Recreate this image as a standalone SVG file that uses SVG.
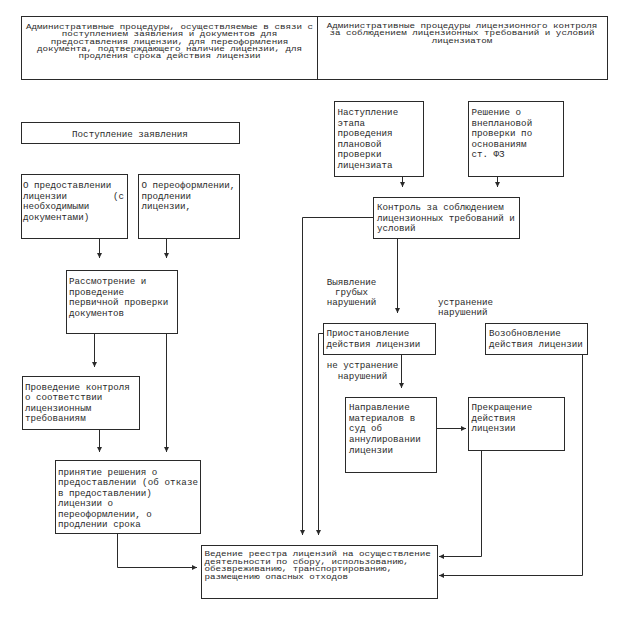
<svg xmlns="http://www.w3.org/2000/svg" width="629" height="624" viewBox="0 0 629 624">
<style>
.b{fill:#fff;stroke:#2a2a2a;stroke-width:1}
.t{font-family:"Liberation Mono","DejaVu Sans Mono",monospace;font-size:9.2px;fill:#2a2a2a}
.c{text-anchor:middle}
.l{fill:none;stroke:#2a2a2a;stroke-width:1}
</style>
<defs>
<marker id="a" markerUnits="userSpaceOnUse" markerWidth="6" markerHeight="6" refX="5" refY="2.5" orient="auto">
<path d="M0,0 L5,2.5 L0,5 z" fill="#2a2a2a"/>
</marker>
</defs>
<rect width="629" height="624" fill="#fff"/>

<g id="connectors">
<path class="l" d="M99.5,238 V258" marker-end="url(#a)"/>
<path class="l" d="M166.5,238 V258" marker-end="url(#a)"/>
<path class="l" d="M94.5,333 V367" marker-end="url(#a)"/>
<path class="l" d="M166.5,333 V452" marker-end="url(#a)"/>
<path class="l" d="M99.5,429 V452" marker-end="url(#a)"/>
<path class="l" d="M117.5,533 V567.5 H197" marker-end="url(#a)"/>
<path class="l" d="M402.5,176 V187" marker-end="url(#a)"/>
<path class="l" d="M497.5,176 V187" marker-end="url(#a)"/>
<path class="l" d="M373,217.5 H302.5 V535" marker-end="url(#a)"/>
<path class="l" d="M323,333.5 H318.5 V535" marker-end="url(#a)"/>
<path class="l" d="M397.5,238 V313" marker-end="url(#a)"/>
<path class="l" d="M401.5,354 V388" marker-end="url(#a)"/>
<path class="l" d="M436,428.5 H466" marker-end="url(#a)"/>
<path class="l" d="M481.5,450 V556.5 H439" marker-end="url(#a)"/>
<path class="l" d="M582.5,354 V575.5 H439" marker-end="url(#a)"/>
</g>

<g id="hdr-left">
<rect class="b" x="21.5" y="16.5" width="296" height="63"/>
<text class="t c" transform="translate(169.5,29) scale(1,0.78)">Административные процедуры, осуществляемые в связи с</text>
<text class="t c" transform="translate(169.5,36.3) scale(1,0.78)">поступлением заявления и документов для</text>
<text class="t c" transform="translate(169.5,43.6) scale(1,0.78)">предоставления лицензии, для переоформления</text>
<text class="t c" transform="translate(169.5,50.9) scale(1,0.78)">документа, подтверждающего наличие лицензии, для</text>
<text class="t c" transform="translate(169.5,58.2) scale(1,0.78)">продления срока действия лицензии</text>
</g>

<g id="hdr-right">
<rect class="b" x="317.5" y="16.5" width="290" height="63"/>
<text class="t c" transform="translate(462,27.5) scale(1,0.78)">Административные процедуры лицензионного контроля</text>
<text class="t c" transform="translate(462,35.3) scale(1,0.78)">за соблюдением лицензионных требований и условий</text>
<text class="t c" transform="translate(462,43.1) scale(1,0.78)">лицензиатом</text>
</g>

<g id="n-postuplenie">
<rect class="b" x="21.5" y="122.5" width="218" height="21"/>
<text class="t c" x="130" y="136.5">Поступление заявления</text>
</g>

<g id="n-predost">
<rect class="b" x="21.5" y="174.5" width="106" height="64"/>
<text class="t" x="23" y="188">О предоставлении</text>
<text class="t" y="198.5"><tspan x="23">лицензии</tspan><tspan x="113">(с</tspan></text>
<text class="t" x="23" y="209">необходимыми</text>
<text class="t" x="23" y="219.5">документами)</text>
</g>

<g id="n-pereoform">
<rect class="b" x="138.5" y="174.5" width="101" height="64"/>
<text class="t" x="141.5" y="188">О переоформлении,</text>
<text class="t" x="141.5" y="198.5">продлении</text>
<text class="t" x="141.5" y="209">лицензии,</text>
</g>

<g id="n-rassmotrenie">
<rect class="b" x="66.5" y="270.5" width="111" height="63"/>
<text class="t" x="69" y="284">Рассмотрение и</text>
<text class="t" x="69" y="294.5">проведение</text>
<text class="t" x="69" y="305">первичной проверки</text>
<text class="t" x="69" y="315.5">документов</text>
</g>

<g id="n-kontrol-sootv">
<rect class="b" x="22.5" y="376.5" width="117" height="53"/>
<text class="t" x="25" y="389.5">Проведение контроля</text>
<text class="t" x="25" y="400">о соответствии</text>
<text class="t" x="25" y="410.5">лицензионным</text>
<text class="t" x="25" y="421">требованиям</text>
</g>

<g id="n-prinyatie">
<rect class="b" x="55.5" y="460.5" width="145" height="73"/>
<text class="t" x="58" y="474.5">принятие решения о</text>
<text class="t" x="58" y="485" textLength="140">предоставлении (об отказе</text>
<text class="t" x="58" y="495.5">в предоставлении)</text>
<text class="t" x="58" y="506">лицензии о</text>
<text class="t" x="58" y="516.5">переоформлении, о</text>
<text class="t" x="58" y="527">продлении срока</text>
</g>

<g id="n-nastuplenie">
<rect class="b" x="334.5" y="101.5" width="89" height="75"/>
<text class="t" x="337.5" y="115">Наступление</text>
<text class="t" x="337.5" y="125.5">этапа</text>
<text class="t" x="337.5" y="136">проведения</text>
<text class="t" x="337.5" y="146.5">плановой</text>
<text class="t" x="337.5" y="157">проверки</text>
<text class="t" x="337.5" y="167.5">лицензиата</text>
</g>

<g id="n-reshenie">
<rect class="b" x="468.5" y="101.5" width="95" height="75"/>
<text class="t" x="471.5" y="115">Решение о</text>
<text class="t" x="471.5" y="125.5">внеплановой</text>
<text class="t" x="471.5" y="136">проверки по</text>
<text class="t" x="471.5" y="146.5">основаниям</text>
<text class="t" x="471.5" y="157">ст. ФЗ</text>
</g>

<g id="n-kontrol">
<rect class="b" x="373.5" y="197.5" width="146" height="41"/>
<text class="t" x="377" y="210">Контроль за соблюдением</text>
<text class="t" x="377" y="220.5">лицензионных требований и</text>
<text class="t" x="377" y="231">условий</text>
</g>

<g id="lbl-vyyavlenie">
<text class="t c" x="351.5" y="284.5">Выявление</text>
<text class="t c" x="351.5" y="294.5">грубых</text>
<text class="t c" x="351.5" y="305">нарушений</text>
</g>

<g id="lbl-ustranenie">
<text class="t" x="438" y="305">устранение</text>
<text class="t" x="438" y="315">нарушений</text>
</g>

<g id="n-priostanovlenie">
<rect class="b" x="323.5" y="323.5" width="112" height="31"/>
<text class="t" x="326.5" y="336">Приостановление</text>
<text class="t" x="326.5" y="346.5">действия лицензии</text>
</g>

<g id="n-vozobnovlenie">
<rect class="b" x="485.5" y="323.5" width="102" height="31"/>
<text class="t" x="489" y="336">Возобновление</text>
<text class="t" x="489" y="346.5">действия лицензии</text>
</g>

<g id="lbl-ne-ustranenie">
<text class="t c" x="362.5" y="367.5">не устранение</text>
<text class="t c" x="362.5" y="379">нарушений</text>
</g>

<g id="n-napravlenie">
<rect class="b" x="345.5" y="397.5" width="91" height="75"/>
<text class="t" x="349" y="410">Направление</text>
<text class="t" x="349" y="420.7">материалов в</text>
<text class="t" x="349" y="431.3">суд об</text>
<text class="t" x="349" y="442">аннулировании</text>
<text class="t" x="349" y="452.5">лицензии</text>
</g>

<g id="n-prekrashenie">
<rect class="b" x="468.5" y="397.5" width="96" height="53"/>
<text class="t" x="471.5" y="410">Прекращение</text>
<text class="t" x="471.5" y="420.7">действия</text>
<text class="t" x="471.5" y="431.3">лицензии</text>
</g>

<g id="n-vedenie">
<rect class="b" x="201.5" y="545.5" width="236" height="53"/>
<text class="t" transform="translate(204.5,556) scale(1,0.8)">Ведение реестра лицензий на осуществление</text>
<text class="t" transform="translate(204.5,563.7) scale(1,0.8)">деятельности по сбору, использованию,</text>
<text class="t" transform="translate(204.5,571.4) scale(1,0.8)">обезвреживанию, транспортированию,</text>
<text class="t" transform="translate(204.5,579.1) scale(1,0.8)">размещению опасных отходов</text>
</g>
</svg>
